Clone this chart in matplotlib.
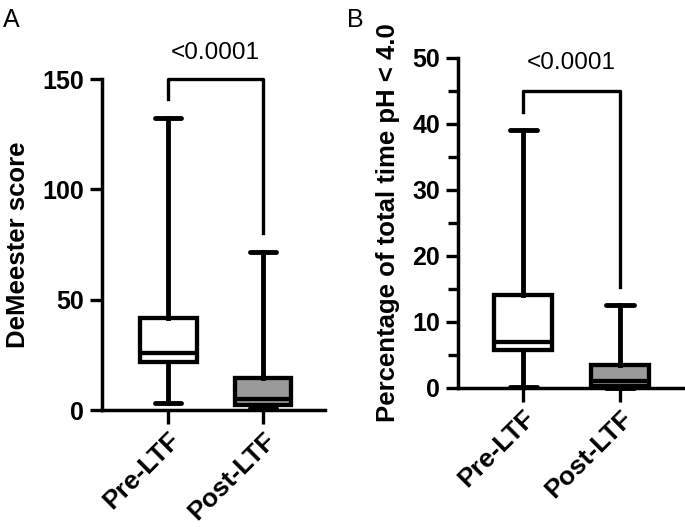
import matplotlib.pyplot as plt
from matplotlib.ticker import MultipleLocator

plt.rcParams['font.family'] = ['Liberation Sans', 'DejaVu Sans']

groups = ["Pre-LTF", "Post-LTF"]

# panel A: DeMeester score (min, q1, median, q3, max)
demeester_min = [3.0, 0.8]
demeester_q1 = [21.8, 2.3]
demeester_med = [26.0, 5.0]
demeester_q3 = [41.7, 14.3]
demeester_max = [132.3, 71.6]

# panel B: % time pH < 4.0
ph_min = [0.2, 0.0]
ph_q1 = [5.8, 0.3]
ph_med = [7.0, 1.0]
ph_q3 = [14.0, 3.4]
ph_max = [39.1, 12.6]

box_colors = ["white", "#9a9a9a"]
p_text = "<0.0001"


def make_stats(mins, q1s, meds, q3s, maxs):
    stats = []
    for lo, q1, med, q3, hi in zip(mins, q1s, meds, q3s, maxs):
        stats.append({"whislo": lo, "q1": q1, "med": med, "q3": q3, "whishi": hi, "fliers": []})
    return stats


def draw_panel(ax, stats, ylim, yticks, ylabel, bracket, minor=None):
    lw_box = 3.1
    bp = ax.bxp(stats, positions=[1, 2], widths=0.6, capwidths=0.28, patch_artist=True,
                showfliers=False,
                boxprops=dict(linewidth=lw_box, edgecolor="black"),
                whiskerprops=dict(linewidth=3.5, color="black"),
                capprops=dict(linewidth=3.5, color="black", solid_capstyle="round"),
                medianprops=dict(linewidth=lw_box, color="black"))
    for patch, c in zip(bp["boxes"], box_colors):
        patch.set_facecolor(c)
    for artist in bp["whiskers"] + bp["caps"] + bp["boxes"] + bp["medians"]:
        artist.set_clip_on(False)

    ax.set_ylim(*ylim)
    ax.set_yticks(yticks)
    if minor:
        ax.yaxis.set_minor_locator(MultipleLocator(minor))
        ax.tick_params(axis="y", which="minor", length=7, width=2.4)
    ax.set_xticks([1, 2])
    ax.set_xticklabels(groups, rotation=45, ha="right", rotation_mode="anchor",
                       fontsize=19, fontweight="bold")
    for lab in ax.get_yticklabels():
        lab.set_fontweight("bold")
    ax.tick_params(axis="y", which="major", length=9, width=2.4, labelsize=18, pad=4)
    ax.tick_params(axis="x", which="major", length=10, width=2.4, pad=3)
    ax.set_ylabel(ylabel, fontsize=18.5, fontweight="bold", labelpad=9)

    for side in ["top", "right"]:
        ax.spines[side].set_visible(False)
    for side in ["left", "bottom"]:
        ax.spines[side].set_linewidth(2.5)
        ax.spines[side].set_zorder(0)

    top, left_end, right_end, text_y = bracket
    ax.plot([1, 1, 2, 2], [left_end, top, top, right_end], color="black",
            linewidth=2.4, clip_on=False)
    ax.text(1.5, text_y, p_text, ha="center", va="center", fontsize=17.5)


fig = plt.figure(figsize=(6.85, 5.27), dpi=100)

ax_a = fig.add_axes([0.149, 0.222, 0.325, 0.628])
draw_panel(ax_a, make_stats(demeester_min, demeester_q1, demeester_med, demeester_q3, demeester_max),
           (0, 150), [0, 50, 100, 150], "DeMeester score", (150, 141, 80, 162))
ax_a.set_xlim(0.305, 2.65)

ax_b = fig.add_axes([0.669, 0.264, 0.328, 0.626])
draw_panel(ax_b, make_stats(ph_min, ph_q1, ph_med, ph_q3, ph_max),
           (0, 50), [0, 10, 20, 30, 40, 50], "Percentage of total time pH < 4.0",
           (45, 41.8, 15.3, 49.2), minor=5)
ax_b.set_xlim(0.33, 2.65)

fig.text(0.004, 0.985, "A", fontsize=18, ha="left", va="top")
fig.text(0.506, 0.985, "B", fontsize=18, ha="left", va="top")

fig.savefig("out.png", dpi=100)
